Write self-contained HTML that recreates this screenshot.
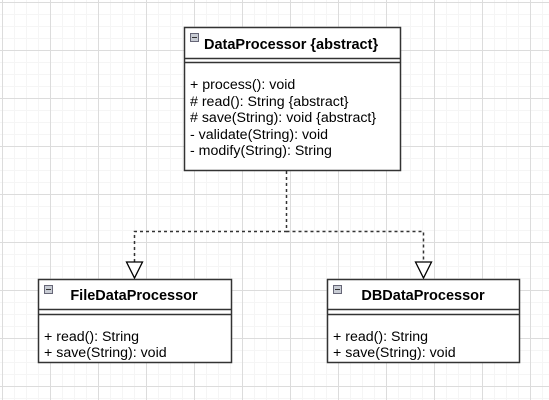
<!DOCTYPE html>
<html><head><style>
html,body{margin:0;padding:0;background:#fff}
svg{display:block}
text{font-family:"Liberation Sans",Arial,sans-serif;fill:#000}
</style></head><body>
<svg width="549" height="400" xmlns="http://www.w3.org/2000/svg">
<defs>
<pattern id="minor" width="12" height="12" patternUnits="userSpaceOnUse" x="2" y="2">
<path d="M0.5 0V12M0 0.5H12" stroke="#f5f5f5" stroke-width="1" fill="none"/>
</pattern>
<pattern id="major" width="48" height="48" patternUnits="userSpaceOnUse" x="2" y="2">
<path d="M0.5 0V48M0 0.5H48" stroke="#dcdcdc" stroke-width="1" fill="none"/>
</pattern>
</defs>
<rect width="549" height="400" fill="url(#minor)"/>
<rect width="549" height="400" fill="url(#major)"/>

<g stroke="#333" stroke-width="1.5" fill="none" stroke-dasharray="3,3">
<path d="M286.5 171V231.5H134.5V262"/>
<path d="M286.5 231.5H423.5V262"/>
</g>
<g stroke="#000" stroke-width="1.3" fill="#fff">
<path d="M126.5 262L142.5 262L134.5 278Z"/>
<path d="M415.5 262L431.5 262L423.5 278Z"/>
</g>

<g stroke="#333" stroke-width="1.5" fill="#fff">
<rect x="184.5" y="27.5" width="216" height="143"/>
<line x1="184.5" y1="58.5" x2="400.5" y2="58.5"/>
<line x1="184.5" y1="62.5" x2="400.5" y2="62.5"/>
</g>
<rect x="190.5" y="33.5" width="8" height="8" fill="#c8ccd4" stroke="#667" stroke-width="1"/>
<line x1="192" y1="37.5" x2="197" y2="37.5" stroke="#333"/>
<text x="204" y="49" font-size="14.5" font-weight="bold">DataProcessor {abstract}</text>
<g font-size="14.2">
<text x="190" y="89">+ process(): void</text>
<text x="190" y="106"># read(): String {abstract}</text>
<text x="190" y="122"># save(String): void {abstract}</text>
<text x="190" y="139">- validate(String): void</text>
<text x="190" y="155">- modify(String): String</text>
</g>

<g stroke="#333" stroke-width="1.5" fill="#fff">
<rect x="38.5" y="279.5" width="193" height="83"/>
<line x1="38.5" y1="309.5" x2="231.5" y2="309.5"/>
<line x1="38.5" y1="314.5" x2="231.5" y2="314.5"/>
</g>
<rect x="44.5" y="285.5" width="8" height="8" fill="#c8ccd4" stroke="#667" stroke-width="1"/>
<line x1="46" y1="289.5" x2="51" y2="289.5" stroke="#333"/>
<text x="134" y="300" font-size="14.5" font-weight="bold" text-anchor="middle">FileDataProcessor</text>
<g font-size="14.2">
<text x="44" y="341">+ read(): String</text>
<text x="44" y="357">+ save(String): void</text>
</g>

<g stroke="#333" stroke-width="1.5" fill="#fff">
<rect x="327.5" y="279.5" width="192" height="83"/>
<line x1="327.5" y1="309.5" x2="519.5" y2="309.5"/>
<line x1="327.5" y1="314.5" x2="519.5" y2="314.5"/>
</g>
<rect x="333.5" y="285.5" width="8" height="8" fill="#c8ccd4" stroke="#667" stroke-width="1"/>
<line x1="335" y1="289.5" x2="340" y2="289.5" stroke="#333"/>
<text x="423" y="300" font-size="14.5" font-weight="bold" text-anchor="middle">DBDataProcessor</text>
<g font-size="14.2">
<text x="333" y="341">+ read(): String</text>
<text x="333" y="357">+ save(String): void</text>
</g>
</svg>
</body></html>
